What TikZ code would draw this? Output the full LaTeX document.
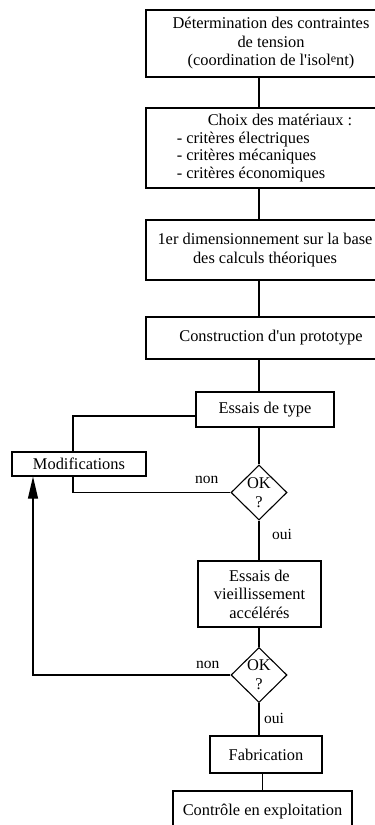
\documentclass[tikz,border=0pt]{standalone}
\usepackage{fontspec}
\setmainfont{Liberation Serif}
\usetikzlibrary{shapes.geometric, arrows.meta, positioning}

\begin{document}
\begin{tikzpicture}[
  x=1pt, y=-1pt,
  box/.style={rectangle, draw, line width=1.1pt, align=center, inner sep=0pt, font=\fontsize{16.4}{18.5}\selectfont},
  test/.style={diamond, draw, line width=1.1pt, inner sep=0pt, minimum width=56pt, minimum height=55pt, align=center, font=\fontsize{16.4}{19}\selectfont},
  wire/.style={line width=1.1pt},
  lbl/.style={inner sep=0pt, font=\fontsize{15.5}{18}\selectfont}
]
\useasboundingbox (0,0) rectangle (375,825);

% Trunk and return lines
\coordinate (trunk) at (259,0);
\coordinate (modx) at (73,0);
\coordinate (back) at (33,0);

% Design steps
\node[box, minimum width=250pt, minimum height=67pt] (det) at (271,43.5) {Détermination des contraintes\\de tension\\(coordination de l\textquotesingle isol\raisebox{3pt}{\fontsize{12}{12}\selectfont e}nt)};
\node[box, minimum width=237pt, minimum height=80pt, align=left, font=\fontsize{16.4}{17.7}\selectfont] (mat) at (264.5,148) {\hspace*{31pt}Choix des matériaux :\\- critères électriques\\- critères mécaniques\\- critères économiques};
\node[box, minimum width=238pt, minimum height=60pt] (dim) at (265,250) {1er dimensionnement sur la base\\des calculs théoriques};
\node[box, minimum width=250pt, minimum height=42pt] (cons) at (271,338) {Construction d\textquotesingle un prototype};

% Tests
\node[box, minimum width=138pt, minimum height=35pt] (typ) at (265,409.5) {Essais de type};
\node[box, minimum width=134pt, minimum height=24pt] (mod) at (79,464) {Modifications};
\node[test] (ok1) at (259,492.5) {OK\\?};
\node[box, minimum width=123pt, minimum height=66pt] (vie) at (259.5,594) {Essais de\\vieillissement\\accélérés};
\node[test] (ok2) at (259,675) {OK\\?};

% Production
\node[box, minimum width=112pt, minimum height=37pt] (fab) at (266,754.5) {Fabrication};
\node[box, minimum width=179pt, minimum height=42pt] (ctl) at (262.5,812) {Contrôle en exploitation};

% Labels
\node[lbl, above left=9pt and 12pt of ok1.west] (non1) {non};
\node[lbl, below right=8pt and 13pt of ok1.south] (oui1) {oui};
\node[lbl, above left=6pt and 11pt of ok2.west] (non2) {non};
\node[lbl, below right=10pt and 5pt of ok2.south] (oui2) {oui};

% Wires
\draw[wire] (det.south -| trunk) -- (mat.north -| trunk);
\draw[wire] (mat.south -| trunk) -- (dim.north -| trunk);
\draw[wire] (dim.south -| trunk) -- (cons.north -| trunk);
\draw[wire] (cons.south -| trunk) -- (typ.north -| trunk);
\draw[wire] (typ.south -| trunk) -- (ok1.north);
\draw[wire] (ok1.south) -- (vie.north -| ok1);
\draw[wire] (vie.south -| ok2) -- (ok2.north);
\draw[wire] (ok2.south) -- (fab.north -| ok2);
\draw[wire] (fab.south -| ctl.north) -- (ctl.north);
\draw[wire] (mod.north -| modx) |- ([yshift=-6.5pt]typ.west);
\draw[wire] (mod.south -| modx) |- (ok1.west);
\draw[wire, -{Triangle[length=22pt, width=10pt]}] (ok2.west) -| (mod.south -| back);

\end{tikzpicture}
\end{document}
